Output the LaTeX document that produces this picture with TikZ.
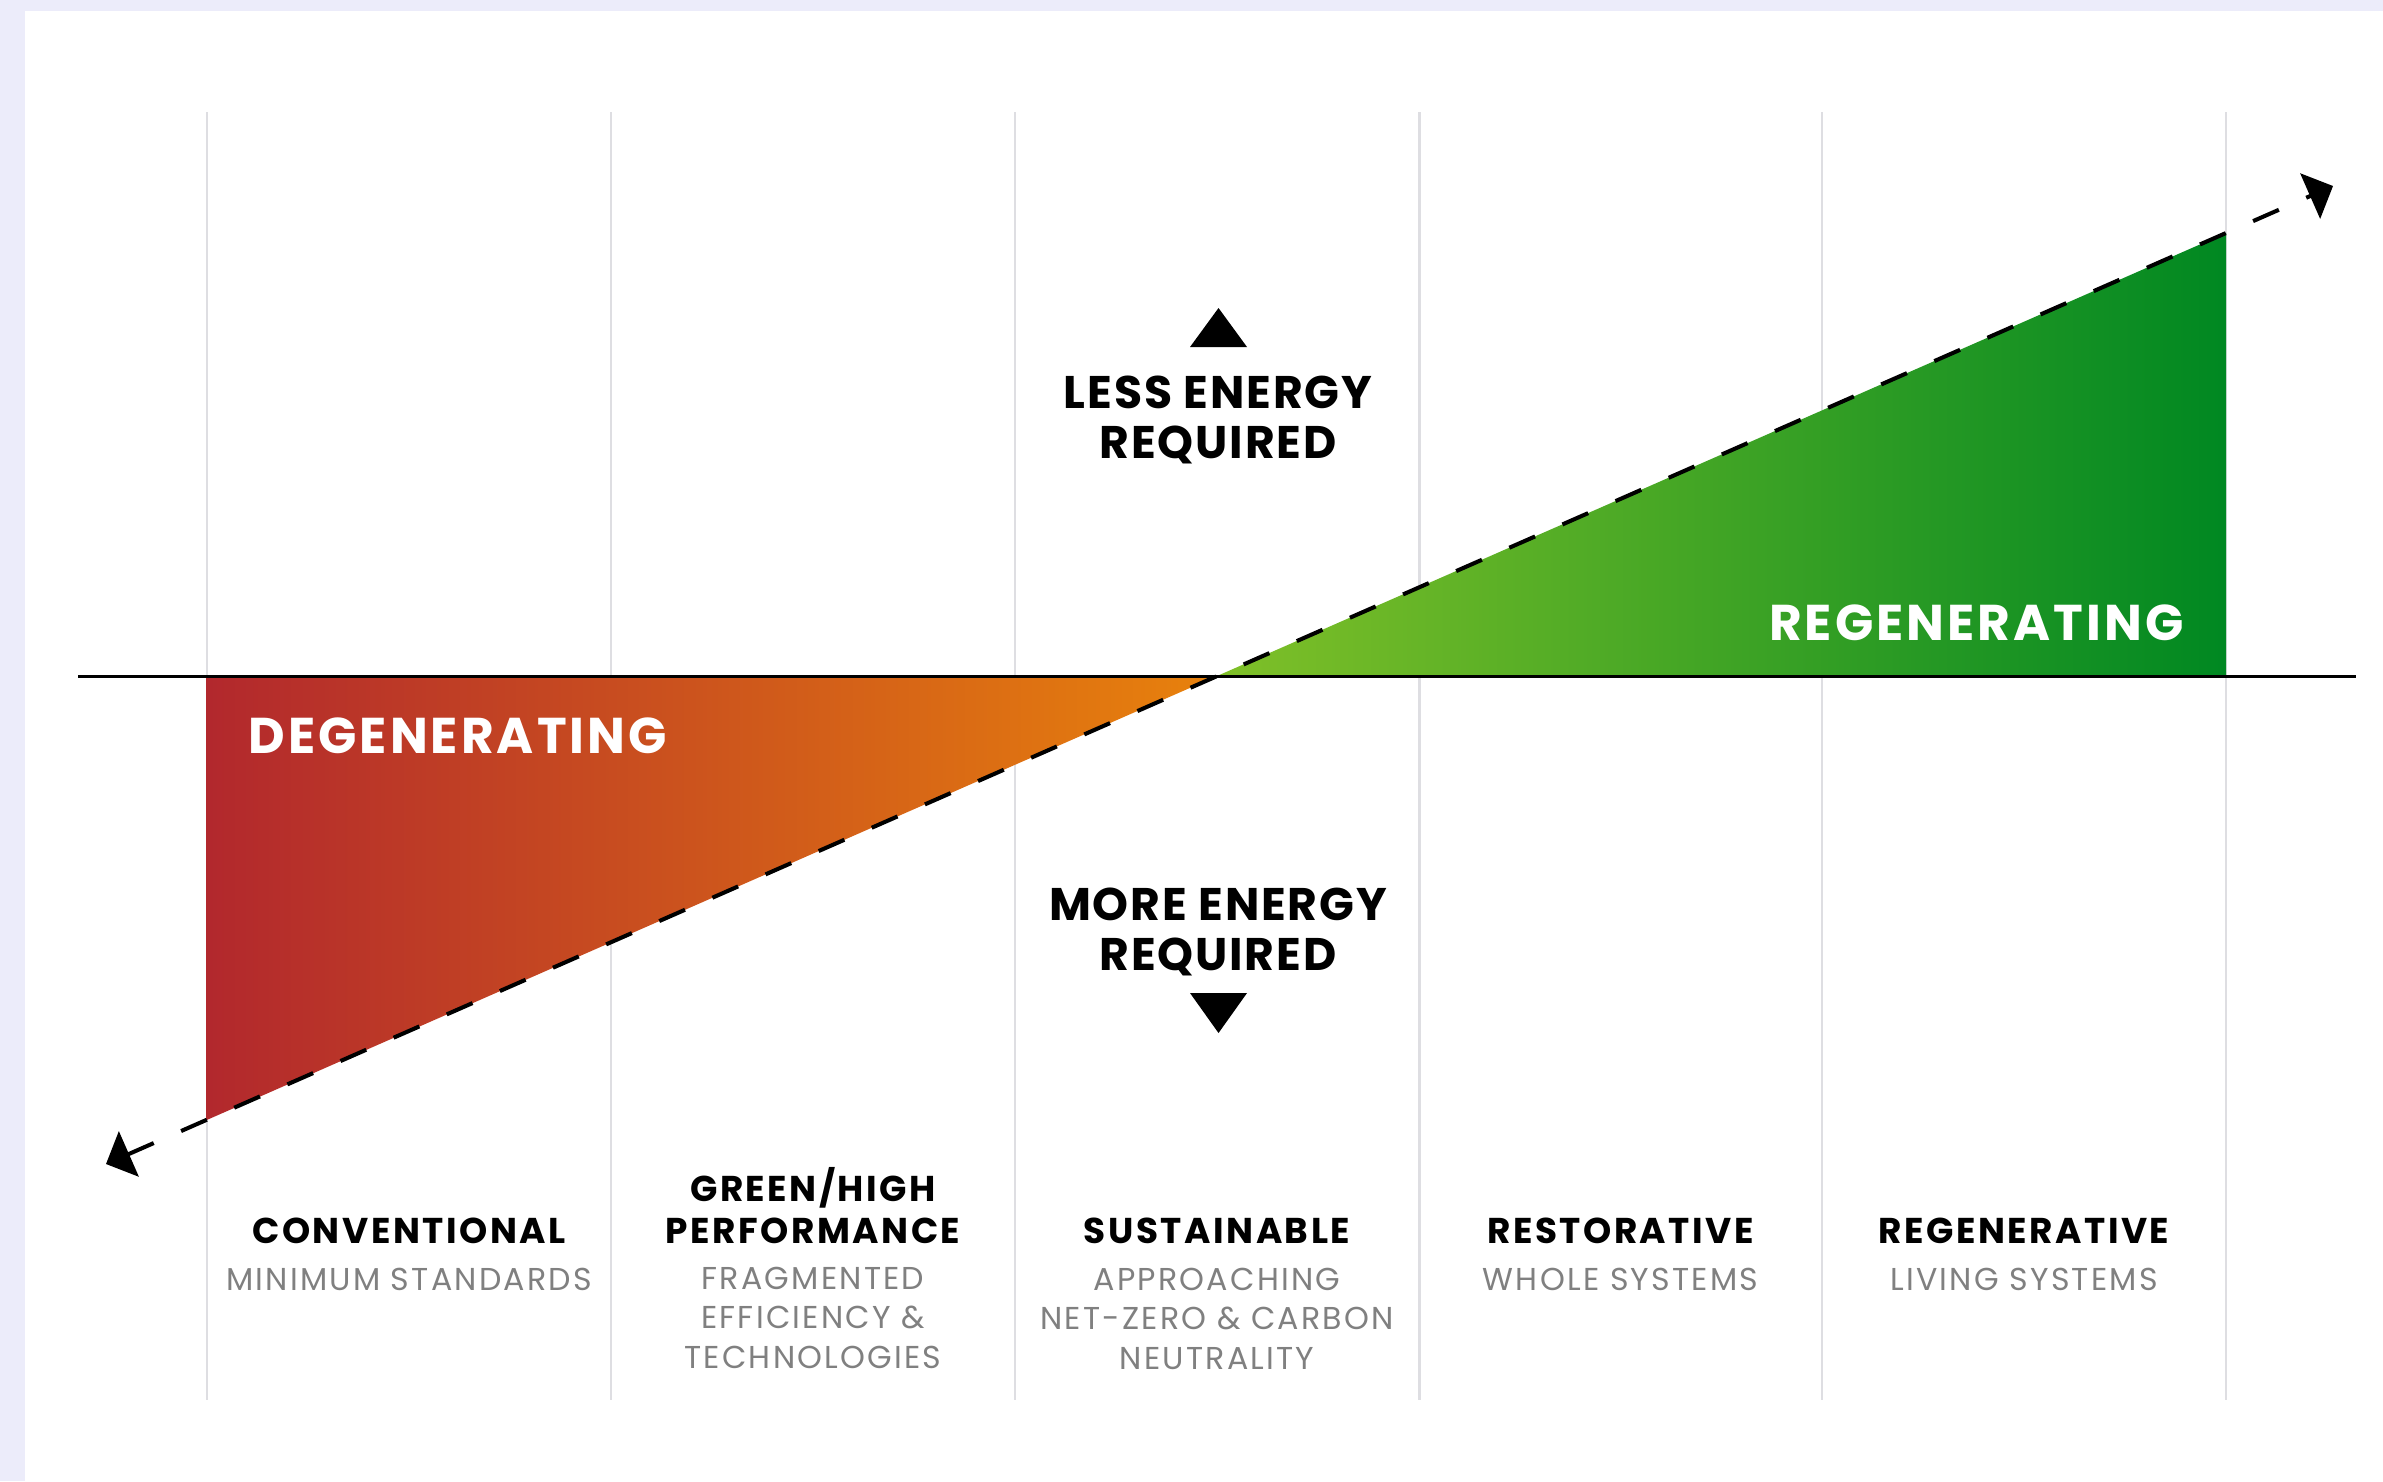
\documentclass[tikz,border=0pt]{standalone}
\usepackage{fontspec}
\setmainfont{Poppins}
\usetikzlibrary{arrows.meta}
\definecolor{bandc}{RGB}{236,236,250}
\definecolor{gridc}{RGB}{222,222,226}
\definecolor{redL}{RGB}{178,40,45}
\definecolor{redM}{RGB}{205,85,28}
\definecolor{redR}{RGB}{232,130,12}
\definecolor{grnL}{RGB}{128,192,40}
\definecolor{grnM}{RGB}{40,156,36}
\definecolor{grnR}{RGB}{0,136,34}
\definecolor{subc}{RGB}{128,128,128}
\begin{document}
\begin{tikzpicture}[x=0.01cm,y=-0.01cm,
  gridline/.style={draw=gridc,line width=0.6pt},
  axisline/.style={draw=black,line width=0.85pt},
  trend/.style={draw=black,line width=1.15pt,dash pattern=on 8pt off 8.5pt,
    {Triangle[length=0.25cm,width=0.49cm]}-{Triangle[length=0.25cm,width=0.49cm]}},
  zone/.style={font=\fontsize{14.3pt}{16pt}\selectfont\bfseries\addfontfeatures{LetterSpace=6},text=white,inner sep=0pt},
  energy/.style={font=\fontsize{13pt}{14.2pt}\selectfont\bfseries\addfontfeatures{LetterSpace=4},align=center,inner sep=0pt},
  title/.style={font=\fontsize{10.2pt}{11.7pt}\selectfont\bfseries\addfontfeatures{LetterSpace=7},align=center,inner sep=0pt},
  sub/.style={font=\fontsize{9pt}{11.1pt}\selectfont\addfontfeatures{LetterSpace=7},text=subc,align=center,inner sep=0pt},
]
\useasboundingbox (0,0) rectangle (2383,1481);
\fill[bandc] (0,0) rectangle (2383,1481);
\fill[white] (25,11) rectangle (2383,1481);

\foreach \x in {206.7,611,1015,1419.5,1822,2226}
  \draw[gridline] (\x,112) -- (\x,1400);

\coordinate (X) at (1217,676);
\coordinate (RL) at (206.7,1120);
\coordinate (GR) at (2226,233);
\shade[left color=redL,middle color=redM,right color=redR]
  (206.7,676) -- (X) -- (RL) -- cycle;
\shade[left color=grnL,middle color=grnM,right color=grnR]
  (X) -- (GR) -- (2226,676) -- cycle;

\coordinate (axL) at (78,676);
\coordinate (axR) at (2356,676);
\draw[axisline] (axL) -- (axR);

\coordinate (tL) at (106,1164);
\coordinate (tR) at (2333,186);
\draw[trend] (tL) -- (tR);

\node[zone,anchor=base west] (deg) at (248,753) {DEGENERATING};
\node[zone,anchor=base east] (reg) at (2184,640) {REGENERATING};

\node[energy,anchor=base] (less) at (1218,458) {LESS ENERGY\\REQUIRED};
\fill (1190,347) -- (1247,347) -- (1218.5,308) -- cycle;
\node[energy,anchor=base] (more) at (1218,970) {MORE ENERGY\\REQUIRED};
\fill (1190,993) -- (1247,993) -- (1218.5,1033) -- cycle;

\node[title,anchor=base] (t1) at (409,1243) {CONVENTIONAL};
\node[sub,anchor=base] (s1) at (409,1290) {MINIMUM STANDARDS};
\node[title,anchor=base] (t2) at (813,1243) {GREEN/HIGH\\PERFORMANCE};
\node[sub,anchor=base] (s2) at (813,1368) {FRAGMENTED\\EFFICIENCY \&\\TECHNOLOGIES};
\node[title,anchor=base] (t3) at (1217,1243) {SUSTAINABLE};
\node[sub,anchor=base] (s3) at (1217,1369) {APPROACHING\\NET-ZERO \& CARBON\\NEUTRALITY};
\node[title,anchor=base] (t4) at (1620.5,1243) {RESTORATIVE};
\node[sub,anchor=base] (s4) at (1620.5,1290) {WHOLE SYSTEMS};
\node[title,anchor=base] (t5) at (2024,1243) {REGENERATIVE};
\node[sub,anchor=base] (s5) at (2024,1290) {LIVING SYSTEMS};
\end{tikzpicture}
\end{document}
